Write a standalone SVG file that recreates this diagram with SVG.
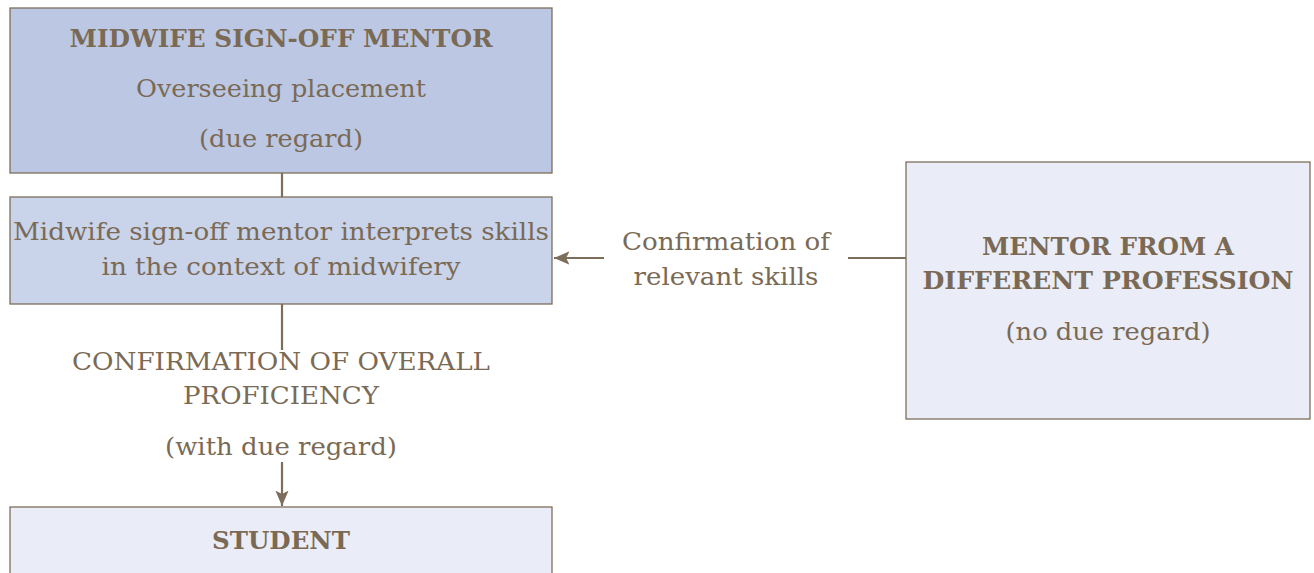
<svg xmlns="http://www.w3.org/2000/svg" width="1314" height="573" viewBox="0 0 1314 573">
<defs>
<style>
.t{font-family:"DejaVu Serif","Liberation Serif",serif;font-size:25px;fill:#7a6a55;text-anchor:middle}
.b{font-weight:bold}
.box{stroke:#7d6e5b;stroke-width:1.3}
.ln{stroke:#7d6e5b;stroke-width:2.2;fill:none}
</style>
<marker id="ah" viewBox="0 0 14 12" refX="14" refY="6" markerWidth="7" markerHeight="6" orient="auto" markerUnits="strokeWidth">
<path d="M0,0 L14,6 L0,12 L3,6 Z" fill="#7d6e5b"/>
</marker>
</defs>
<rect width="1314" height="573" fill="#ffffff"/>
<g id="connectors">
<line class="ln" x1="282" y1="173" x2="282" y2="197"/>
<line class="ln" x1="282" y1="304" x2="282" y2="350"/>
<line class="ln" x1="282" y1="462" x2="282" y2="506" marker-end="url(#ah)"/>
<line class="ln" x1="906" y1="258" x2="848" y2="258"/>
<line class="ln" x1="604" y1="258" x2="554" y2="258" marker-end="url(#ah)"/>
<text class="t" x="281" y="370" textLength="418" lengthAdjust="spacingAndGlyphs">CONFIRMATION OF OVERALL</text>
<text class="t" x="281" y="404" textLength="196" lengthAdjust="spacingAndGlyphs">PROFICIENCY</text>
<text class="t" x="281" y="455" textLength="232" lengthAdjust="spacingAndGlyphs">(with due regard)</text>
<text class="t" x="726" y="250" textLength="208" lengthAdjust="spacingAndGlyphs">Confirmation of</text>
<text class="t" x="726" y="285" textLength="185" lengthAdjust="spacingAndGlyphs">relevant skills</text>
</g>
<g id="mentor">
<rect class="box" x="10" y="8" width="542" height="165" fill="#bcc8e3"/>
<text class="t b" x="281" y="47" textLength="423" lengthAdjust="spacingAndGlyphs">MIDWIFE SIGN-OFF MENTOR</text>
<text class="t" x="281" y="97" textLength="290" lengthAdjust="spacingAndGlyphs">Overseeing placement</text>
<text class="t" x="281" y="147" textLength="164" lengthAdjust="spacingAndGlyphs">(due regard)</text>
</g>
<g id="interprets">
<rect class="box" x="10" y="197" width="542" height="107" fill="#c9d3ea"/>
<text class="t" x="281" y="240" textLength="536" lengthAdjust="spacingAndGlyphs">Midwife sign-off mentor interprets skills</text>
<text class="t" x="281" y="275" textLength="359" lengthAdjust="spacingAndGlyphs">in the context of midwifery</text>
</g>
<g id="other-mentor">
<rect class="box" x="906" y="162" width="404" height="257" fill="#eaedf7"/>
<text class="t b" x="1108" y="255" textLength="252" lengthAdjust="spacingAndGlyphs">MENTOR FROM A</text>
<text class="t b" x="1108" y="289" textLength="371" lengthAdjust="spacingAndGlyphs">DIFFERENT PROFESSION</text>
<text class="t" x="1108" y="340" textLength="205" lengthAdjust="spacingAndGlyphs">(no due regard)</text>
</g>
<g id="student">
<rect class="box" x="10" y="507" width="542" height="80" fill="#eaedf7"/>
<text class="t b" x="281" y="549" textLength="138" lengthAdjust="spacingAndGlyphs">STUDENT</text>
</g>
</svg>
